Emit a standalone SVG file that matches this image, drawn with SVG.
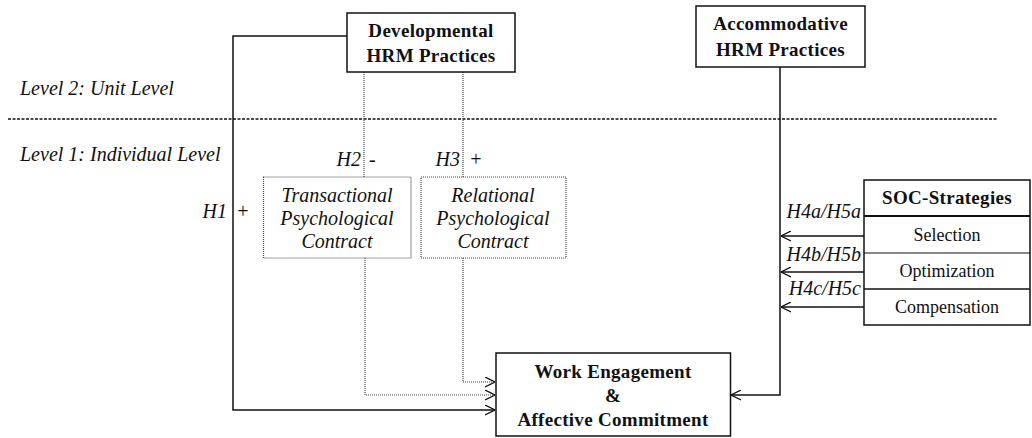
<svg xmlns="http://www.w3.org/2000/svg" width="1032" height="438" viewBox="0 0 1032 438">
<style>
.b{font-family:"Liberation Serif",serif;font-weight:bold;font-size:19px;letter-spacing:0.3px;text-anchor:middle;fill:#111}
.r{font-family:"Liberation Serif",serif;font-size:18px;text-anchor:middle;fill:#111}
.i{font-family:"Liberation Serif",serif;font-style:italic;font-size:20px;fill:#111}
.c{text-anchor:middle}
.e{text-anchor:end}
.box{fill:#fff;stroke:#111;stroke-width:1.5}
.dbox{fill:#fff;stroke:#444;stroke-width:1.2;stroke-dasharray:1 1}
.sol{fill:none;stroke:#111;stroke-width:1.5}
.dot{fill:none;stroke:#444;stroke-width:1.2;stroke-dasharray:1 1}
</style>
<defs>
<marker id="ah" viewBox="0 0 10 10" refX="10" refY="5" markerWidth="10" markerHeight="11" markerUnits="userSpaceOnUse" orient="auto">
<path d="M0,0 L10,5 L0,10" fill="none" stroke="#111" stroke-width="1.3"/>
</marker>
</defs>
<rect width="1032" height="438" fill="#fff"/>
<g id="levels">
<line x1="8" y1="119" x2="998" y2="119" stroke="#111" stroke-width="1.5" stroke-dasharray="3 1.5"/>
<text class="i" x="20" y="95">Level 2: Unit Level</text>
<text class="i" x="20" y="161">Level 1: Individual Level</text>
</g>
<g id="connectors">
<polyline class="sol" points="347,36 233,36 233,410 495,410" marker-end="url(#ah)"/>
<line class="dot" x1="364" y1="72" x2="364" y2="177"/>
<line class="dot" x1="463" y1="72" x2="463" y2="177"/>
<polyline class="dot" points="365,258 365,395 495,395" marker-end="url(#ah)"/>
<polyline class="dot" points="463,258 463,382 495,382" marker-end="url(#ah)"/>
<polyline class="sol" points="780,67 780,395 731,395" marker-end="url(#ah)"/>
<line class="sol" x1="864" y1="236" x2="781" y2="236" marker-end="url(#ah)"/>
<line class="sol" x1="864" y1="272" x2="781" y2="272" marker-end="url(#ah)"/>
<line class="sol" x1="864" y1="307" x2="781" y2="307" marker-end="url(#ah)"/>
<text class="i e" x="227" y="218">H1</text>
<text class="i" x="236" y="218">+</text>
<text class="i e" x="361" y="166">H2</text>
<text class="i" x="369" y="166">-</text>
<text class="i e" x="460" y="166">H3</text>
<text class="i" x="469" y="166">+</text>
<text class="i e" x="861" y="218">H4a/H5a</text>
<text class="i e" x="861" y="261">H4b/H5b</text>
<text class="i e" x="861" y="295">H4c/H5c</text>
</g>
<g id="developmental">
<rect class="box" x="347" y="13" width="168" height="59"/>
<text class="b" x="431" y="37">Developmental</text>
<text class="b" x="431" y="62">HRM Practices</text>
</g>
<g id="accommodative">
<rect class="box" x="696" y="6" width="169" height="61"/>
<text class="b" x="780.5" y="30">Accommodative</text>
<text class="b" x="780.5" y="56">HRM Practices</text>
</g>
<g id="transactional">
<rect class="dbox" x="263.5" y="177" width="147.5" height="81"/>
<text class="i c" x="337" y="202">Transactional</text>
<text class="i c" x="337" y="225">Psychological</text>
<text class="i c" x="337" y="248">Contract</text>
</g>
<g id="relational">
<rect class="dbox" x="421" y="177" width="145" height="81"/>
<text class="i c" x="493" y="202">Relational</text>
<text class="i c" x="493" y="225">Psychological</text>
<text class="i c" x="493" y="248">Contract</text>
</g>
<g id="outcome">
<rect class="box" x="496" y="353" width="234.5" height="83"/>
<text class="b" x="613" y="378">Work Engagement</text>
<text class="b" x="613" y="402">&amp;</text>
<text class="b" x="613" y="426">Affective Commitment</text>
</g>
<g id="soc">
<rect class="box" x="864" y="180" width="166" height="145"/>
<line x1="864" y1="216" x2="1030" y2="216" stroke="#111" stroke-width="2.2"/>
<line x1="864" y1="253" x2="1030" y2="253" stroke="#111" stroke-width="1.2"/>
<line x1="864" y1="289" x2="1030" y2="289" stroke="#111" stroke-width="1.5"/>
<text class="b" x="947" y="204">SOC-Strategies</text>
<text class="r" x="947" y="241">Selection</text>
<text class="r" x="947" y="277">Optimization</text>
<text class="r" x="947" y="313">Compensation</text>
</g>
</svg>
